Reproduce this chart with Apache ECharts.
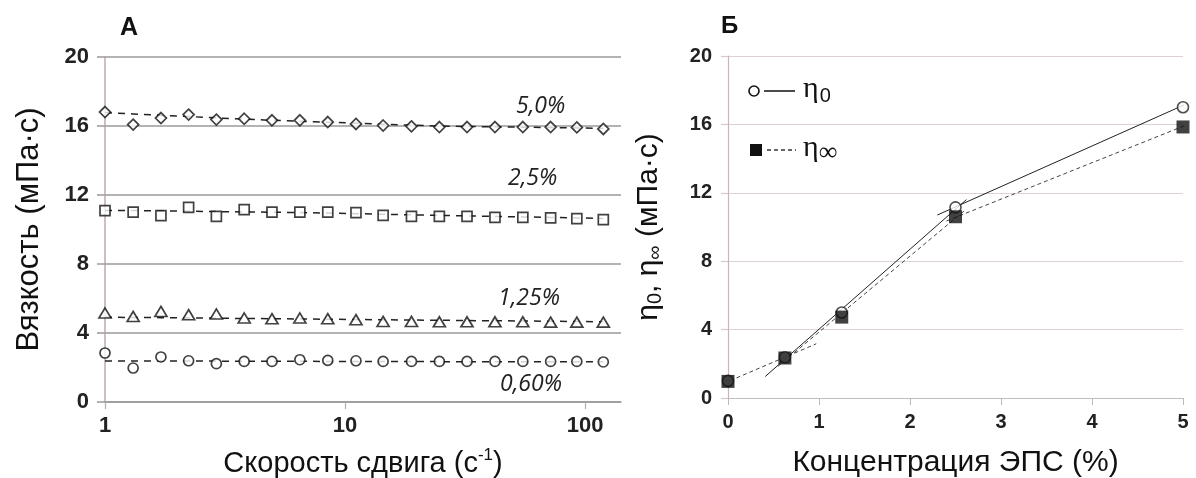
<!DOCTYPE html>
<html>
<head>
<meta charset="utf-8">
<title>Вязкость ЭПС</title>
<script src="https://cdn.jsdelivr.net/npm/echarts@6/dist/echarts.min.js"></script>
<style>
    html, body { margin: 0; padding: 0; background: #fff; }
    #chart { width: 1196px; height: 478px; }
</style>
</head>
<body>
<div id="chart"></div>
<script>
// Panel A: shear rate (1/s), log axis
const shearRates = [1, 1.31, 1.71, 2.23, 2.91, 3.8, 4.96, 6.48, 8.47, 11.1, 14.4, 18.9, 24.7, 32.2, 42.1, 55, 71.8, 92.3, 119];

// Viscosity points per concentration
const visc50 = [16.81, 16.08, 16.46, 16.66, 16.37, 16.42, 16.33, 16.33, 16.23, 16.12, 16.03, 15.98, 15.94, 15.94, 15.94, 15.94, 15.94, 15.92, 15.83];
const visc25 = [11.09, 11.01, 10.8, 11.28, 10.76, 11.15, 11.01, 11.01, 11.01, 10.98, 10.82, 10.76, 10.76, 10.76, 10.7, 10.7, 10.67, 10.63, 10.57];
const visc125 = [5.16, 4.96, 5.25, 5.06, 5.1, 4.87, 4.83, 4.87, 4.83, 4.77, 4.67, 4.67, 4.65, 4.65, 4.65, 4.65, 4.63, 4.63, 4.63];
const visc060 = [2.84, 1.97, 2.61, 2.39, 2.22, 2.35, 2.35, 2.45, 2.41, 2.39, 2.35, 2.35, 2.35, 2.35, 2.35, 2.35, 2.35, 2.35, 2.32];

// Dashed trend lines
const fit50 = [16.78, 16.7, 16.62, 16.55, 16.47, 16.4, 16.33, 16.28, 16.22, 16.16, 16.1, 16.05, 16.0, 15.97, 15.95, 15.93, 15.91, 15.89, 15.86];
const fit25 = [11.1, 11.1, 11.08, 11.06, 11.04, 11.02, 11.0, 10.98, 10.95, 10.92, 10.88, 10.85, 10.82, 10.79, 10.76, 10.73, 10.7, 10.67, 10.64];
const fit125 = [4.92, 4.9, 4.89, 4.87, 4.86, 4.84, 4.83, 4.81, 4.8, 4.78, 4.77, 4.75, 4.74, 4.72, 4.71, 4.7, 4.68, 4.67, 4.65];
const fit060 = [2.38, 2.38, 2.37, 2.37, 2.37, 2.36, 2.36, 2.36, 2.35, 2.35, 2.35, 2.35, 2.34, 2.34, 2.34, 2.34, 2.33, 2.33, 2.33];

const concLabels = ['5,0%', '2,5%', '1,25%', '0,60%'];

// Panel Б: concentration (%)
const concentrations = [0, 0.625, 1.25, 2.5, 5];
const eta0 = [1.0, 2.38, 5.0, 11.15, 17.0];
const etaInf = [0.97, 2.34, 4.73, 10.6, 15.85];

// Piecewise trend segments [x, y]
const eta0Seg1 = [[0.41, 1.26], [2.62, 11.6]];
const eta0Seg2 = [[2.3, 10.7], [5.08, 17.3]];
const etaInfSeg0 = [[-0.26, 0.37], [0.97, 3.17]];
const etaInfSeg1 = [[0.55, 1.86], [2.6, 10.96]];
const etaInfSeg2 = [[2.4, 10.35], [5.1, 16.1]];

const yTicksA = [0, 20, 4];
const yTicksB = [0, 20, 4];
const xTicksB = [0, 5, 1];

const sans = "'Liberation Sans', Arial, sans-serif";
const serif = "'Liberation Serif', 'Times New Roman', serif";
const italic = "'Open Sans', sans-serif";

const chart = echarts.init(document.getElementById('chart'));

// Open markers for panel A
const pointSeries = (values, symbol, size) => ({
    type: 'scatter',
    xAxisIndex: 0,
    yAxisIndex: 0,
    symbol: symbol,
    symbolSize: size,
    itemStyle: { color: '#fff', borderColor: '#111', borderWidth: 1.7 },
    data: shearRates.map((x, i) => [x, values[i]]),
    z: 4
});

// Dashed trend of panel A
const fitSeries = (values) => ({
    type: 'line',
    xAxisIndex: 0,
    yAxisIndex: 0,
    showSymbol: false,
    symbol: 'none',
    lineStyle: { color: '#222', width: 1.5, type: [7, 6] },
    data: shearRates.map((x, i) => [x, values[i]]),
    z: 3
});

// Trend segments of panel Б
const segSeries = (data, dashed) => ({
    type: 'line',
    xAxisIndex: 1,
    yAxisIndex: 1,
    symbol: 'none',
    clip: false,
    lineStyle: dashed
        ? { color: '#444', width: 1, type: [4, 3] }
        : { color: '#222', width: 1 },
    data: data,
    z: 3
});

const concLabel = (text, left, top) => ({
    type: 'text', left: left, top: top,
    style: { text: text, fontFamily: italic, fontStyle: 'italic', fontSize: 23, fill: '#222' }
});

const option = {
    backgroundColor: '#fff',
    animation: false,
    grid: [
        { left: 105, top: 57, width: 516, height: 345, outerBoundsMode: 'none', containLabel: false },
        { left: 728, top: 56, width: 455, height: 342, outerBoundsMode: 'none', containLabel: false }
    ],
    xAxis: [
        {
            gridIndex: 0,
            type: 'log',
            logBase: 10,
            min: 1,
            max: 141,
            name: '{t|Скорость сдвига (с}{sup|-1}{t|)}',
            nameLocation: 'middle',
            nameGap: 45,
            nameTextStyle: {
                rich: {
                    t: { fontFamily: sans, fontSize: 29, color: '#111' },
                    sup: { fontFamily: sans, fontSize: 17, color: '#111', padding: [0, 0, 16, 0] }
                }
            },
            axisLine: { show: true, lineStyle: { color: '#9a9a9a', width: 1.5 } },
            axisTick: { show: true, length: 7, lineStyle: { color: '#b8aab0', width: 1.2 } },
            axisLabel: {
                fontFamily: sans, fontWeight: 'bold', fontSize: 22, color: '#222', margin: 13,
                showMaxLabel: false,
                formatter: (v) => ([1, 10, 100].indexOf(Math.round(v)) >= 0 ? String(Math.round(v)) : '')
            },
            splitLine: { show: false },
            minorTick: { show: false }
        },
        {
            gridIndex: 1,
            type: 'value',
            min: xTicksB[0],
            max: xTicksB[1],
            interval: xTicksB[2],
            name: 'Концентрация ЭПС (%)',
            nameLocation: 'middle',
            nameGap: 50,
            nameTextStyle: { fontFamily: sans, fontSize: 30, color: '#111' },
            axisLine: { show: true, lineStyle: { color: '#bdbdbd', width: 1.2 } },
            axisTick: { show: true, length: 7, lineStyle: { color: '#c4b4ba', width: 1 } },
            axisLabel: { fontFamily: sans, fontWeight: 'bold', fontSize: 20, color: '#222', margin: 14 },
            splitLine: { show: false }
        }
    ],
    yAxis: [
        {
            gridIndex: 0,
            type: 'value',
            min: yTicksA[0],
            max: yTicksA[1],
            interval: yTicksA[2],
            name: 'Вязкость (мПа·с)',
            nameLocation: 'middle',
            nameGap: 60,
            nameTextStyle: { fontFamily: sans, fontSize: 31, color: '#111' },
            axisLine: { show: true, lineStyle: { color: '#bcaab2', width: 1.5 } },
            axisTick: { show: true, length: 8, lineStyle: { color: '#9a9a9a', width: 1.5 } },
            axisLabel: { fontFamily: sans, fontWeight: 'bold', fontSize: 22, color: '#222', margin: 16 },
            splitLine: { show: true, lineStyle: { color: '#9a9a9a', width: 1.5 } }
        },
        {
            gridIndex: 1,
            type: 'value',
            min: yTicksB[0],
            max: yTicksB[1],
            interval: yTicksB[2],
            name: '{t|η}{s|0}{t|, η}{s|∞}{t| (мПа·с)}',
            nameLocation: 'middle',
            nameGap: 63,
            nameTextStyle: {
                rich: {
                    t: { fontFamily: sans, fontSize: 30, color: '#111' },
                    s: { fontFamily: sans, fontSize: 20, color: '#111', padding: [12, 0, 0, 0] }
                }
            },
            axisLine: { show: true, lineStyle: { color: '#c9b5bd', width: 1.2 } },
            axisTick: { show: true, length: 7, lineStyle: { color: '#d6cacf', width: 1.2 } },
            axisLabel: { fontFamily: sans, fontWeight: 'bold', fontSize: 20, color: '#222', margin: 16 },
            splitLine: { show: true, lineStyle: { color: '#dcd2d5', width: 1.2 } }
        }
    ],
    graphic: [
        // Panel letters
        { type: 'text', left: 120, top: 16, style: { text: 'А', fontFamily: sans, fontWeight: 'bold', fontSize: 25, fill: '#111' } },
        { type: 'text', left: 721, top: 14, style: { text: 'Б', fontFamily: sans, fontWeight: 'bold', fontSize: 24, fill: '#111' } },
        // Concentration labels in panel A
        concLabel(concLabels[0], 516, 95),
        concLabel(concLabels[1], 508, 167),
        concLabel(concLabels[2], 498, 287),
        concLabel(concLabels[3], 500, 373),
        // Legend of panel Б
        { type: 'circle', shape: { cx: 754, cy: 91, r: 5 }, style: { fill: '#fff', stroke: '#111', lineWidth: 1.6 } },
        { type: 'line', shape: { x1: 764, y1: 91, x2: 795, y2: 91 }, style: { stroke: '#111', lineWidth: 1.5 } },
        {
            type: 'text', left: 803, top: 74,
            style: {
                text: '{t|η}{s|0}',
                rich: {
                    t: { fontFamily: serif, fontSize: 30, fill: '#111' },
                    s: { fontFamily: sans, fontSize: 20, fill: '#111', padding: [14, 0, 0, 1] }
                }
            }
        },
        { type: 'rect', shape: { x: 750, y: 144, width: 12, height: 12 }, style: { fill: '#111' } },
        { type: 'line', shape: { x1: 767, y1: 150, x2: 796, y2: 150 }, style: { stroke: '#333', lineWidth: 1.5, lineDash: [4, 3] } },
        {
            type: 'text', left: 803, top: 133,
            style: {
                text: '{t|η}{s|∞}',
                rich: {
                    t: { fontFamily: serif, fontSize: 30, fill: '#111' },
                    s: { fontFamily: serif, fontSize: 26, fill: '#111', padding: [10, 0, 0, 0] }
                }
            }
        }
    ],
    series: [
        fitSeries(fit50),
        fitSeries(fit25),
        fitSeries(fit125),
        fitSeries(fit060),
        pointSeries(visc50, 'diamond', [11, 11]),
        pointSeries(visc25, 'rect', [10, 10]),
        pointSeries(visc125, 'triangle', [12, 10]),
        pointSeries(visc060, 'circle', 10),
        // Panel Б trends
        segSeries(eta0Seg1, false),
        segSeries(eta0Seg2, false),
        segSeries(etaInfSeg0, true),
        segSeries(etaInfSeg1, true),
        segSeries(etaInfSeg2, true),
        {
            type: 'scatter',
            xAxisIndex: 1,
            yAxisIndex: 1,
            symbol: 'circle',
            symbolSize: 11,
            itemStyle: { color: '#fff', borderColor: '#222', borderWidth: 1.6 },
            data: concentrations.map((x, i) => [x, eta0[i]]),
            z: 4
        },
        {
            type: 'scatter',
            xAxisIndex: 1,
            yAxisIndex: 1,
            symbol: 'rect',
            symbolSize: 13,
            itemStyle: { color: '#111' },
            data: concentrations.map((x, i) => [x, etaInf[i]]),
            z: 5
        }
    ]
};

chart.setOption(option);
</script>
</body>
</html>
